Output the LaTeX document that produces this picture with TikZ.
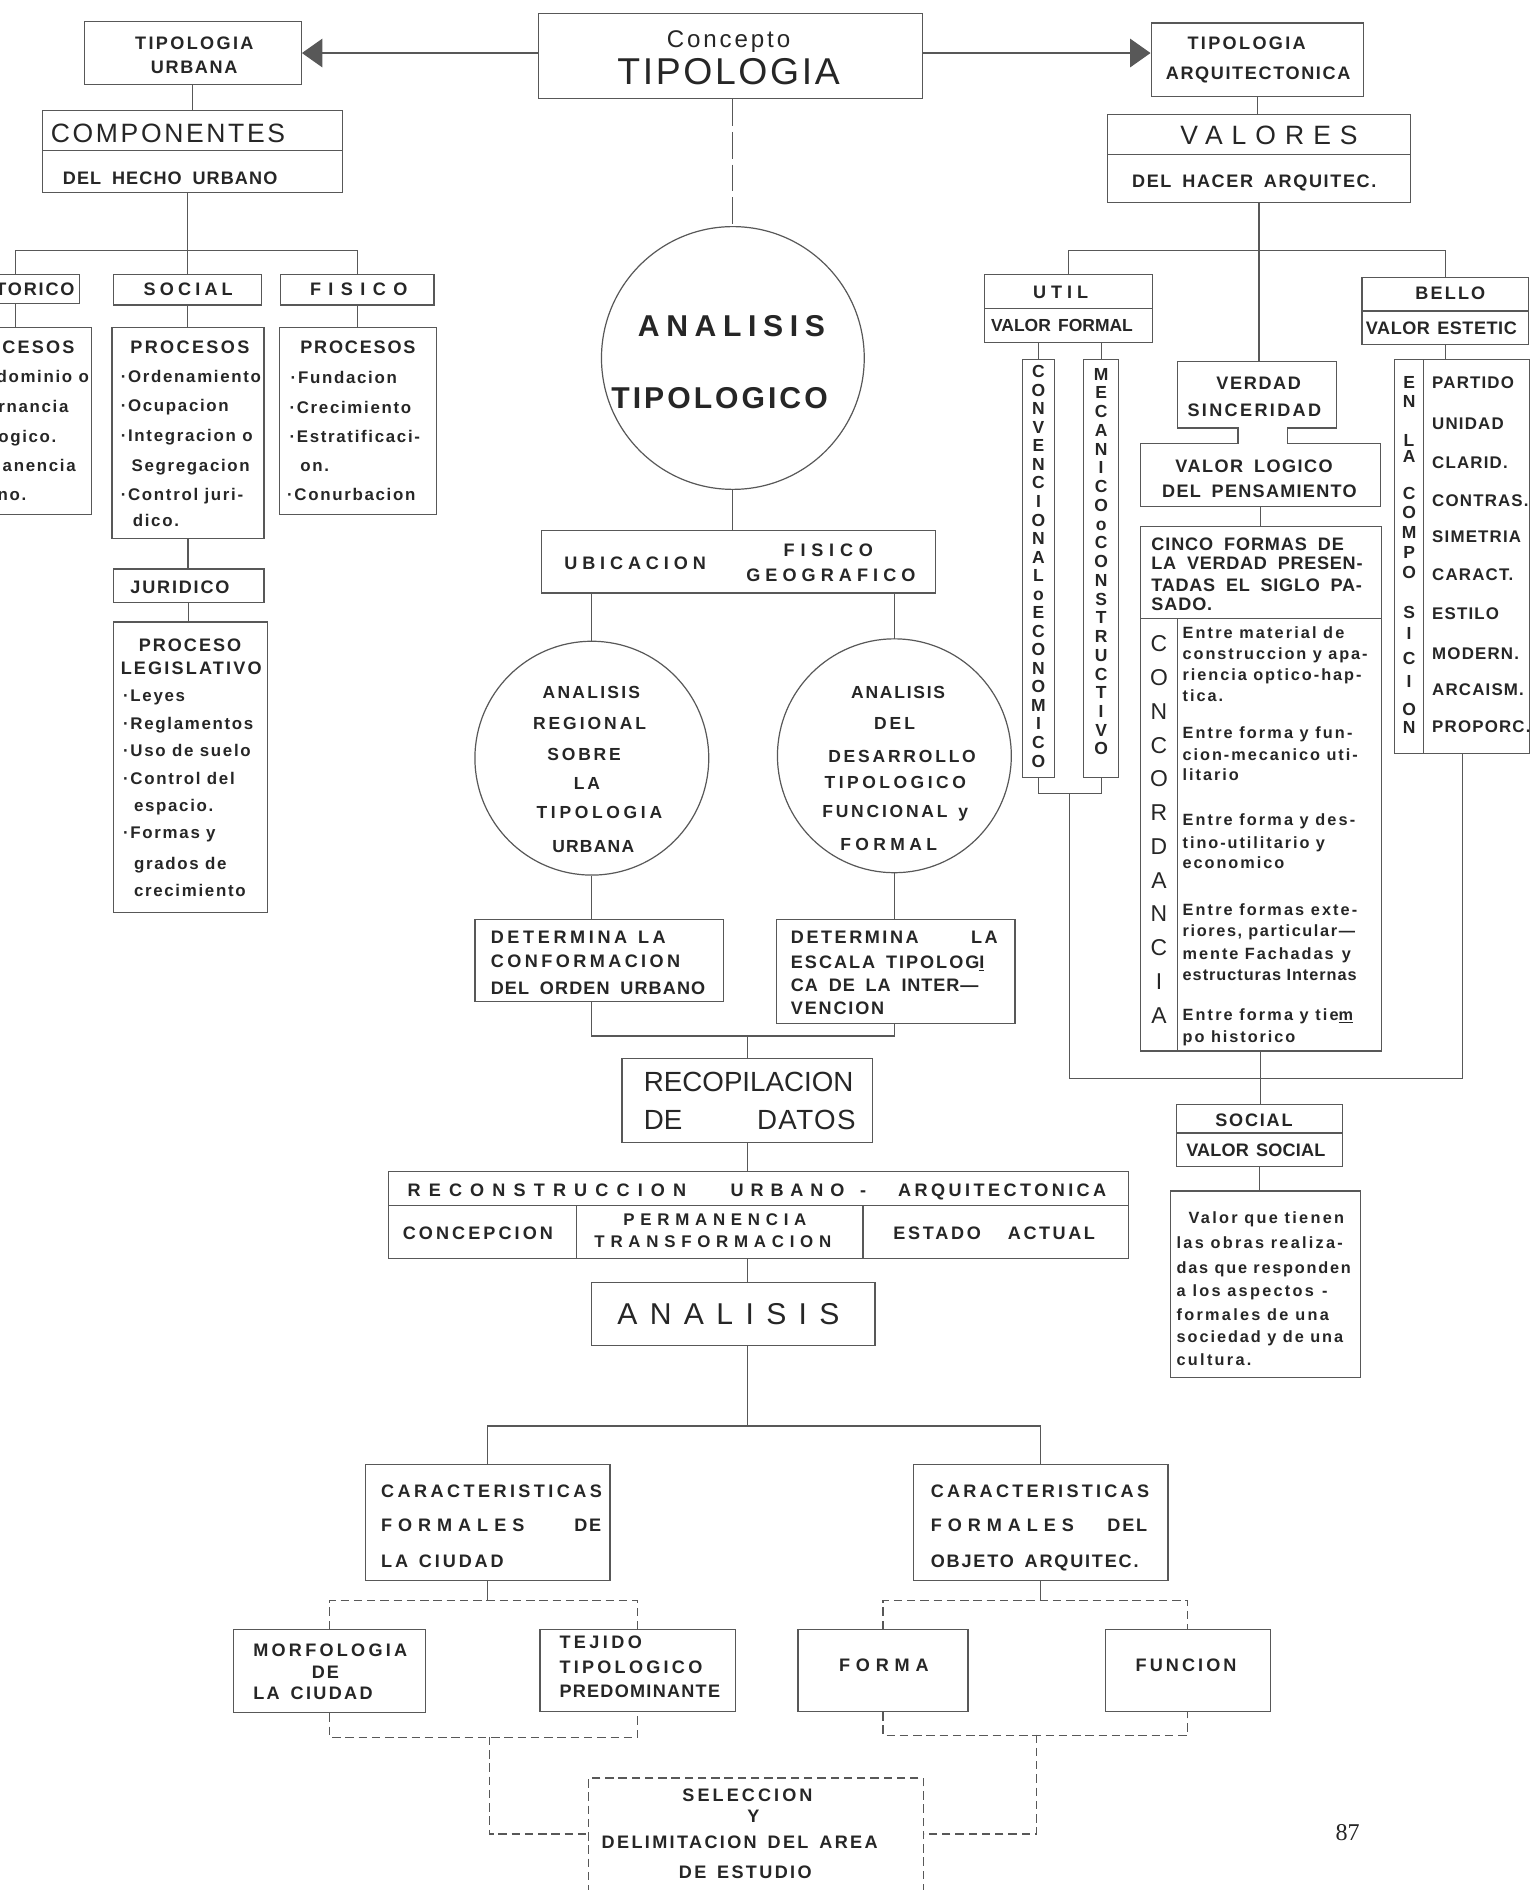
\documentclass[tikz,border=0pt]{standalone}
\usepackage{fontspec}
\setmainfont{Liberation Sans}
\newfontfamily\pgfont{Liberation Serif}
\usetikzlibrary{fit,calc}
\definecolor{lnc}{HTML}{585858}
\definecolor{txc}{HTML}{262626}
\newcommand\LS[1]{\addfontfeature{LetterSpace=#1}}
\newcommand\gp{\hspace{9pt}}
\tikzset{
  bx/.style={draw=lnc,line width=1pt,inner sep=0pt},
  cn/.style={draw=lnc,line width=1pt},
  dc/.style={draw=lnc,line width=1pt,dash pattern=on 7pt off 4pt},
  dlong/.style={draw=lnc,line width=1pt,dash pattern=on 22pt off 5pt},
  tb/.style={text=txc,inner sep=0pt,text depth=0pt,text height=10.7pt,font=\bfseries\fontsize{15}{17}\selectfont},
  tl/.style={text=txc,inner sep=0pt,text depth=0pt,text height=10pt,font=\bfseries\fontsize{14}{16}\selectfont},
  tc/.style={text=txc,inner sep=0pt,text depth=0pt,text height=10.4pt,font=\bfseries\fontsize{14.5}{16}\selectfont},
  te/.style={text=txc,inner sep=0pt,text depth=0pt,text height=9.7pt,font=\bfseries\fontsize{13.5}{15}\selectfont},
  tr/.style={text=txc,inner sep=0pt,text depth=0pt},
  aw/.style={anchor=west},
  ae/.style={anchor=east},
}
\begin{document}
\begin{tikzpicture}[x=1pt,y=-1pt]
\useasboundingbox[fill=white] (0,0) rectangle (1270,1568);
\clip (0,0) rectangle (1270,1568);

% ---------------- TOP ----------------
\node[bx,fit={(70,18) (250,70)}] (tu) {};
\node[tb,aw] (tu1) at (112,36) {\LS{13}TIPOLOGIA};
\node[tb,aw] (tu2) at (125,56) {\LS{9}URBANA};
\node[bx,fit={(447,11) (765,82)}] (cp) {};
\node[tr,aw,text height=14.3pt,font=\fontsize{20}{22}\selectfont] (cp1) at (553,32) {\LS{12}Concepto};
\node[tr,aw,text height=22.2pt,font=\fontsize{31}{33}\selectfont] (cp2) at (512,59) {\LS{7}TIPOLOGIA};
\node[bx,fit={(955,19) (1131,80)}] (ta) {};
\node[tb,aw] (ta1) at (985,36) {\LS{13}TIPOLOGIA};
\node[tb,aw] (ta2) at (967,61) {\LS{9}ARQUITECTONICA};

\draw[cn] (cp.west |- tu.east) -- ($(tu.east)+(16,0)$);
\fill[lnc] (tu.east) -- ++(17,-12) -- ++(0,24) -- cycle;
\draw[cn] (cp.east |- tu.east) -- ($(ta.west |- tu.east)+(-16,0)$);
\fill[lnc] (ta.west |- tu.east) -- ++(-17,-12) -- ++(0,24) -- cycle;

% ---------------- LEFT ----------------
\node[bx,fit={(35,92) (284,160)}] (comp) {};
\draw[cn] (35,125) -- (284,125);
\node[tr,aw,text height=15.8pt,font=\fontsize{22}{24}\selectfont] (comp1) at (42,110) {\LS{10}COMPONENTES};
\node[tb,aw] (comp2) at (52,148) {\LS{6}DEL\gp HECHO\gp URBANO};
\draw[cn] (tu.south) -- (tu.south |- comp.north);

\node[bx,fit={(-40,228) (66,252)}] (hist) {};
\node[tb,ae] (hist1) at (62,240) {\LS{10}HISTORICO};
\node[bx,fit={(94,228) (217,253)}] (soc) {};
\node[tb,aw] (soc1) at (119,240) {\LS{23}SOCIAL};
\node[bx,fit={(233,228) (360,253)}] (fis) {};
\node[tb,aw] (fis1) at (257,240) {\LS{41}FISICO};
\draw[cn] (comp.south -| soc.north) -- (soc.north);
\draw[cn] (hist.north) -- ++(0,-20) -| (fis.north);

\node[bx,fit={(-50,272) (76,427)}] (hp) {};
\node[tb,ae] (hp1) at (62,288) {\LS{12}PROCESOS};
\node[tl,ae] (hp2) at (74,312) {\LS{10}·Predominio o};
\node[tl,ae] (hp3) at (57,337) {\LS{10}Gobernancia};
\node[tl,ae] (hp4) at (47,362) {\LS{10}Tecnologico.};
\node[tl,ae] (hp5) at (63,386) {\LS{10}·Permanencia};
\node[tl,ae] (hp6) at (22,410) {\LS{10}Urbano.};

\node[bx,fit={(93,272) (219,447)}] (sp) {};
\node[tb,aw] (sp1) at (108,288) {\LS{13}PROCESOS};
\node[tl,aw] (sp2) at (100,312) {\LS{10}·Ordenamiento};
\node[tl,aw] (sp3) at (100,336) {\LS{10}·Ocupacion};
\node[tl,aw] (sp4) at (100,361) {\LS{10}·Integracion o};
\node[tl,aw] (sp5) at (109,386) {\LS{10}Segregacion};
\node[tl,aw] (sp6) at (100,410) {\LS{10}·Control juri-};
\node[tl,aw] (sp7) at (110,432) {\LS{10}dico.};

\node[bx,fit={(232,272) (362,427)}] (fp) {};
\node[tb,aw] (fp1) at (249,288) {\LS{10}PROCESOS};
\node[tl,aw] (fp2) at (241,313) {\LS{10}·Fundacion};
\node[tl,aw] (fp3) at (240,338) {\LS{10}·Crecimiento};
\node[tl,aw] (fp4) at (240,362) {\LS{10}·Estratificaci-};
\node[tl,aw] (fp5) at (249,386) {\LS{10}on.};
\node[tl,aw] (fp6) at (238,410) {\LS{10}·Conurbacion};

\draw[cn] (hist.south) -- (hist.south |- hp.north);
\draw[cn] (soc.south) -- (soc.south |- sp.north);
\draw[cn] (fis.south) -- (fis.south |- fp.north);

\node[bx,fit={(94,472) (219,500)}] (jur) {};
\node[tb,aw] (jur1) at (108,487) {\LS{10}JURIDICO};
\draw[cn] (sp.south) -- (sp.south |- jur.north);
\node[bx,fit={(94,516) (222,757)}] (leg) {};
\draw[cn] (jur.south) -- (jur.south |- leg.north);
\node[tb,aw] (leg1) at (115,535) {\LS{11}PROCESO};
\node[tb,aw] (leg2) at (100,554) {\LS{12}LEGISLATIVO};
\node[tl,aw] (leg3) at (102,577) {\LS{10}·Leyes};
\node[tl,aw] (leg4) at (102,600) {\LS{10}·Reglamentos};
\node[tl,aw] (leg5) at (102,623) {\LS{10}·Uso de suelo};
\node[tl,aw] (leg6) at (102,646) {\LS{10}·Control del};
\node[tl,aw] (leg7) at (111,668) {\LS{10}espacio.};
\node[tl,aw] (leg8) at (102,691) {\LS{10}·Formas y};
\node[tl,aw] (leg9) at (111,716) {\LS{10}grados de};
\node[tl,aw] (leg10) at (111,739) {\LS{10}crecimiento};

% ---------------- CENTER ----------------
\node[draw=lnc,line width=1pt,circle,minimum size=218pt,inner sep=0pt] (big) at (608,297) {};
\node[tr,aw,text height=18pt,font=\bfseries\fontsize{25}{27}\selectfont] (big1) at (529,270) {\LS{22}ANALISIS};
\node[tr,aw,text height=18pt,font=\bfseries\fontsize{25}{27}\selectfont] (big2) at (507,330) {\LS{10}TIPOLOGICO};
\draw[dlong] (cp.south -| big.north) -- (big.north);

\node[bx,fit={(449,440) (776,492)}] (ub) {};
\node[tb,aw] (ub1) at (468,467) {\LS{27}UBICACION};
\node[tb,aw] (ub2) at (650,456) {\LS{32}FISICO};
\node[tb,aw] (ub3) at (619,477) {\LS{28}GEOGRAFICO};
\draw[cn] (big.south) -- (big.south |- ub.north);

\node[draw=lnc,line width=1pt,circle,minimum size=194pt,inner sep=0pt] (lc) at (491,629) {};
\node[draw=lnc,line width=1pt,circle,minimum size=194pt,inner sep=0pt] (rc) at (742,627) {};
\draw[cn] (lc.north |- ub.south) -- (lc.north);
\draw[cn] (rc.north |- ub.south) -- (rc.north);
\node[tc,aw] (lc1) at (450,574) {\LS{13}ANALISIS};
\node[tc,aw] (lc2) at (442,600) {\LS{17}REGIONAL};
\node[tc,aw] (lc3) at (454,626) {\LS{16}SOBRE};
\node[tc,aw] (lc4) at (476,650) {\LS{16}LA};
\node[tc,aw] (lc5) at (445,674) {\LS{21}TIPOLOGIA};
\node[tc,aw] (lc6) at (458,702) {\LS{7}URBANA};
\node[tc,aw] (rc1) at (706,574) {\LS{10}ANALISIS};
\node[tc,aw] (rc2) at (725,600) {\LS{17}DEL};
\node[tc,aw] (rc3) at (687,627) {\LS{16}DESARROLLO};
\node[tc,aw] (rc4) at (684,649) {\LS{20}TIPOLOGICO};
\node[tc,aw] (rc5) at (682,673) {\LS{16}FUNCIONAL\gp y};
\node[tc,aw] (rc6) at (697,700) {\LS{25}FORMAL};

\node[bx,fit={(394,763) (600,831)}] (dl) {};
\node[tb,aw] (dl1) at (407,777) {\LS{20}DETERMINA\gp LA};
\node[tb,aw] (dl2) at (407,797) {\LS{19}CONFORMACION};
\node[tb,aw] (dl3) at (407,820) {\LS{6}DEL\gp ORDEN\gp URBANO};
\node[bx,fit={(644,763) (842,849)}] (dr) {};
\node[tb,aw] (dr1) at (656,777) {\LS{14}DETERMINA};
\node[tb,ae] (dr2) at (828,777) {\LS{14}LA};
\node[tb,aw] (dr3) at (656,798) {\LS{11}ESCALA\gp TIPOLOG\underline{I}};
\node[tb,aw] (dr4) at (656,817) {\LS{5}CA\gp DE\gp LA\gp INTER—};
\node[tb,aw] (dr5) at (656,836) {\LS{10}VENCION};
\draw[cn] (lc.south) -- (lc.south |- dl.north);
\draw[cn] (rc.south) -- (rc.south |- dr.north);

\node[bx,fit={(516,878) (724,948)}] (rec) {};
\node[tr,aw,text height=16.5pt,font=\fontsize{23}{25}\selectfont] (rec1) at (534,897) {RECOPILACION};
\node[tr,aw,text height=16.5pt,font=\fontsize{23}{25}\selectfont] (rec2) at (534,929) {DE};
\node[tr,ae,text height=16.5pt,font=\fontsize{23}{25}\selectfont] (rec3) at (710,929) {\LS{5}DATOS};
\draw[cn] (lc.south |- dl.south) -- ++(0,28) -| (rc.south |- dr.south);
\coordinate (j1) at (620,859);
\draw[cn] (rec.north) -- (rec.north |- j1);

\node[bx,fit={(322,972) (936,1044)}] (recon) {};
\draw[cn] (322,1000) -- (936,1000);
\draw[cn] (478,1000) -- (478,1044);
\draw[cn] (716,1000) -- (716,1044);
\node[tb,aw] (rc11) at (338,987) {\LS{45}RECONSTRUCCION};
\node[tb,aw] (rc12) at (606,987) {\LS{38}URBANO};
\node[tb] (rc13) at (716,987) {-};
\node[tb,aw] (rc14) at (745,987) {\LS{19}ARQUITECTONICA};
\node[tb,aw] (rc15) at (334,1023) {\LS{17}CONCEPCION};
\node[tl,aw] (rc16) at (517,1012) {\LS{34}PERMANENCIA};
\node[tl,aw] (rc17) at (493,1030) {\LS{34}TRANSFORMACION};
\node[tb,aw] (rc18) at (741,1023) {\LS{15}ESTADO};
\node[tb,aw] (rc19) at (836,1023) {\LS{14}ACTUAL};
\draw[cn] (rec.south) -- (rec.south |- recon.north);

\node[bx,fit={(491,1064) (726,1116)}] (an) {};
\node[tr,aw,text height=18pt,font=\fontsize{25}{27}\selectfont] (an1) at (512,1090) {\LS{41}ANALISIS};
\draw[cn] (rec.south |- recon.south) -- (rec.south |- an.north);

\node[bx,fit={(303,1215) (506,1311)}] (cl) {};
\node[tb,aw] (cl1) at (316,1237) {\LS{19}CARACTERISTICAS};
\node[tb,aw] (cl2) at (316,1265) {\LS{33}FORMALES};
\node[tb,ae] (cl3) at (499,1265) {\LS{10}DE};
\node[tb,aw] (cl4) at (316,1295) {\LS{16}LA\gp CIUDAD};
\node[bx,fit={(758,1215) (969,1311)}] (cr) {};
\node[tb,aw] (cr1) at (772,1237) {\LS{18}CARACTERISTICAS};
\node[tb,aw] (cr2) at (772,1265) {\LS{33}FORMALES};
\node[tb,ae] (cr3) at (952,1265) {\LS{10}DEL};
\node[tb,aw] (cr4) at (772,1295) {\LS{10}OBJETO\gp ARQUITEC.};
\coordinate (j2) at (613,1183);
\draw[cn] (rec.south |- an.south) -- (rec.south |- j2);
\draw[cn] (cl.north) -- (cl.north |- j2) -- (cr.north |- j2) -- (cr.north);

\node[bx,fit={(194,1352) (353,1421)}] (morf) {};
\node[tb,aw] (mo1) at (210,1369) {\LS{18}MORFOLOGIA};
\node[tb] (mo2) at (270,1387) {\LS{10}DE};
\node[tb,aw] (mo3) at (210,1405) {\LS{13}LA\gp CIUDAD};
\node[bx,fit={(448,1352) (610,1420)}] (tej) {};
\node[tb,aw] (te1) at (464,1362) {\LS{19}TEJIDO};
\node[tb,aw] (te2) at (464,1383) {\LS{18}TIPOLOGICO};
\node[tb,aw] (te3) at (464,1403) {\LS{7}PREDOMINANTE};
\node[bx,fit={(662,1352) (803,1420)}] (forma) {};
\node[tb,aw] (fo1) at (696,1381) {\LS{32}FORMA};
\node[bx,fit={(917,1352) (1054,1420)}] (func) {};
\node[tb,aw] (fu1) at (942,1381) {\LS{17}FUNCION};

\draw[cn] (cl.south) -- ++(0,16) coordinate (j3);
\draw[dc] (morf.north) |- (j3) -| (tej.north);
\draw[cn] (cr.south) -- ++(0,16) coordinate (j4);
\draw[dc] (forma.north) |- (j4) -| (func.north);

\node[bx,dc,fit={(488,1475) (766,1600)}] (sel) {};
\node[tb,aw] (se1) at (566,1489) {\LS{17}SELECCION};
\node[tb] (se2) at (625,1507) {Y};
\node[tb,aw] (se3) at (499,1528) {\LS{13}DELIMITACION\gp DEL\gp AREA};
\node[tb,aw] (se4) at (563,1553) {\LS{13}DE\gp ESTUDIO};

\draw[dc] (morf.south) -- ++(0,20) -| (tej.south);
\coordinate (j5) at (406,1441);
\coordinate (sl) at ($(sel.north west)+(0,47)$);
\draw[dc] (j5) |- (sl);
\draw[dc] (forma.south) -- ++(0,19) -| (func.south);
\coordinate (j6) at (860,1439);
\coordinate (sr) at ($(sel.north east)+(0,47)$);
\draw[dc] (j6) |- (sr);

\node[text=txc,inner sep=0pt,text depth=0pt,text height=13pt,font=\pgfont\fontsize{20}{22}\selectfont] (pg) at (1118,1520) {87};

% ---------------- RIGHT ----------------
\node[bx,fit={(919,95) (1170,168)}] (val) {};
\draw[cn] (919,128) -- (1170,128);
\node[tr,aw,text height=15.8pt,font=\fontsize{22}{24}\selectfont] (va1) at (979,112) {\LS{34}VALORES};
\node[tb,aw] (va2) at (939,150) {\LS{9}DEL\gp HACER\gp ARQUITEC.};
\draw[cn] (ta.south) -- (ta.south |- val.north);

\node[bx,fit={(817,228) (956,284)}] (util) {};
\draw[cn] (817,256) -- (956,256);
\node[tb,aw] (ut1) at (857,242) {\LS{27}UTIL};
\node[tc,aw] (ut2) at (822,270) {VALOR\hspace{6pt}FORMAL};
\node[bx,fit={(1130,230) (1268,286)}] (bello) {};
\draw[cn] (1130,258) -- (1268,258);
\node[tb,aw] (be1) at (1174,243) {\LS{12}BELLO};
\node[tb,aw] (be2) at (1133,272) {\LS{3}VALOR\hspace{6pt}ESTETIC};
\draw[cn] (util.north) -- ++(0,-20) -| (bello.north);

\node[bx,fit={(848,298) (875,645)}] (conv) {};
\node[bx,fit={(899,298) (928,645)}] (mec) {};
\draw[cn] (conv.north |- util.south) -- (conv.north);
\draw[cn] (mec.north |- util.south) -- (mec.north);
\foreach \c [count=\i] in {C,O,N,V,E,N,C,I,O,N,A,L,o,E,C,O,N,O,M,I,C,O}
  \node[tb,font=\bfseries\fontsize{14.5}{16}\selectfont] (cv\i) at (861.5,{308+15.38*(\i-1)}) {\c};
\foreach \c [count=\i] in {M,E,C,A,N,I,C,O,o,C,O,N,S,T,R,U,C,T,I,V,O}
  \node[tb,font=\bfseries\fontsize{14.5}{16}\selectfont] (mc\i) at (913.5,{310+15.55*(\i-1)}) {\c};

\node[fit={(977,300) (1109,355)},inner sep=0pt] (ver) {};
\node[fit={(946,368) (1145,420)},inner sep=0pt] (vl) {};
\draw[cn] (1027,368) -- (1027,355) -- (977,355) -- (977,300) -- (1109,300) -- (1109,355)
  -- (1068,355) -- (1068,368) -- (1145,368) -- (1145,420) -- (946,420) -- (946,368) -- cycle;
\node[tb,aw] (ve1) at (1009,318) {\LS{9}VERDAD};
\node[tb,aw] (ve2) at (985,340) {\LS{13}SINCERIDAD};
\node[tb,aw] (vl1) at (975,387) {\LS{8}VALOR\gp LOGICO};
\node[tb,aw] (vl2) at (964,407) {\LS{7}DEL\gp PENSAMIENTO};
\draw[cn] (val.south) -- (val.south |- ver.north);

\node[bx,fit={(946,437) (1146,872)}] (cinco) {};
\draw[cn] (946,513) -- (1146,513);
\draw[cn] (977,513) -- (977,872);
\draw[cn] (vl.south) -- (vl.south |- cinco.north);
\node[tb,aw] (ci1) at (955,451) {\LS{5}CINCO\gp FORMAS\gp DE};
\node[tb,aw] (ci2) at (955,467) {\LS{4}LA\gp VERDAD\gp PRESEN-};
\node[tb,aw] (ci3) at (955,485) {\LS{4}TADAS\gp EL\gp SIGLO\gp PA-};
\node[tb,aw] (ci4) at (955,501) {\LS{5}SADO.};
\foreach \c [count=\i] in {C,O,N,C,O,R,D,A,N,C,I,A}
  \node[tr,text height=13.6pt,font=\fontsize{19}{20}\selectfont] (cc\i) at (961.5,{534+28*(\i-1)}) {\c};
\node[te,aw] (en1) at (981,525) {\LS{13}Entre material de};
\node[te,aw] (en2) at (981,542) {\LS{12}construccion y apa-};
\node[te,aw] (en3) at (981,560) {\LS{12}riencia optico-hap-};
\node[te,aw] (en4) at (981,577) {\LS{12}tica.};
\node[te,aw] (en5) at (981,608) {\LS{13}Entre forma y fun-};
\node[te,aw] (en6) at (981,626) {\LS{12}cion-mecanico uti-};
\node[te,aw] (en7) at (981,643) {\LS{12}litario};
\node[te,aw] (en8) at (981,680) {\LS{13}Entre forma y des-};
\node[te,aw] (en9) at (981,699) {\LS{12}tino-utilitario y};
\node[te,aw] (en10) at (981,716) {\LS{12}economico};
\node[te,aw] (en11) at (981,755) {\LS{13}Entre formas exte-};
\node[te,aw] (en12) at (981,772) {\LS{10}riores, particular—};
\node[te,aw] (en13) at (981,791) {\LS{12}mente Fachadas\enspace y};
\node[te,aw] (en14) at (981,809) {\LS{6}estructuras Internas};
\node[te,aw] (en15) at (981,842) {\LS{13}Entre forma y tie\underline{m}};
\node[te,aw] (en16) at (981,860) {\LS{12}po historico};

\node[bx,fit={(1157,298) (1269,625)}] (enla) {};
\draw[cn] (1181,298) -- (1181,625);
\draw[cn] (bello.south) -- (bello.south |- enla.north);
\foreach \c/\yy [count=\i] in {E/317,N/333,L/365,A/378,C/409,O/425,M/441,P/458,O/475,S/508,I/525,C/546,I/565,O/588,N/603}
  \node[tb,font=\bfseries\fontsize{14.5}{16}\selectfont] (el\i) at (1169,\yy) {\c};
\foreach \t/\yy [count=\i] in {PARTIDO/317,UNIDAD/351,CLARID./384,CONTRAS./415,SIMETRIA/445,CARACT./477,ESTILO/509,MODERN./542,ARCAISM./572,PROPORC./603}
  \node[tl,aw] (it\i) at (1188,\yy) {\LS{7}\t};

\coordinate (jc) at ($(conv.south)!0.5!(mec.south)+(0,13)$);
\draw[cn] (conv.south) -- ++(0,13) -| (mec.south);
\coordinate (jr) at (cinco.south |- 0,895);
\draw[cn] (jc) |- (enla.south |- jr) -- (enla.south);

\node[bx,fit={(976,916) (1114,968)}] (soc2) {};
\draw[cn] (976,940) -- (1114,940);
\node[tb,aw] (so1) at (1008,929) {\LS{10}SOCIAL};
\node[tb,aw] (so2) at (984,954) {\LS{1}VALOR\hspace{6pt}SOCIAL};
\draw[cn] (cinco.south) -- (cinco.south |- soc2.north);

\node[bx,fit={(971,988) (1129,1143)}] (vs) {};
\draw[cn] (soc2.south) -- (soc2.south |- vs.north);
\node[te,aw] (vs1) at (986,1010) {\LS{14}Valor que tienen};
\node[te,aw] (vs2) at (976,1031) {\LS{14}las obras realiza-};
\node[te,aw] (vs3) at (976,1052) {\LS{11}das que responden};
\node[te,aw] (vs4) at (976,1071) {\LS{14}a los aspectos\enspace -};
\node[te,aw] (vs5) at (976,1091) {\LS{14}formales de una};
\node[te,aw] (vs6) at (976,1109) {\LS{12}sociedad y de una};
\node[te,aw] (vs7) at (976,1128) {\LS{14}cultura.};
\end{tikzpicture}
\end{document}
